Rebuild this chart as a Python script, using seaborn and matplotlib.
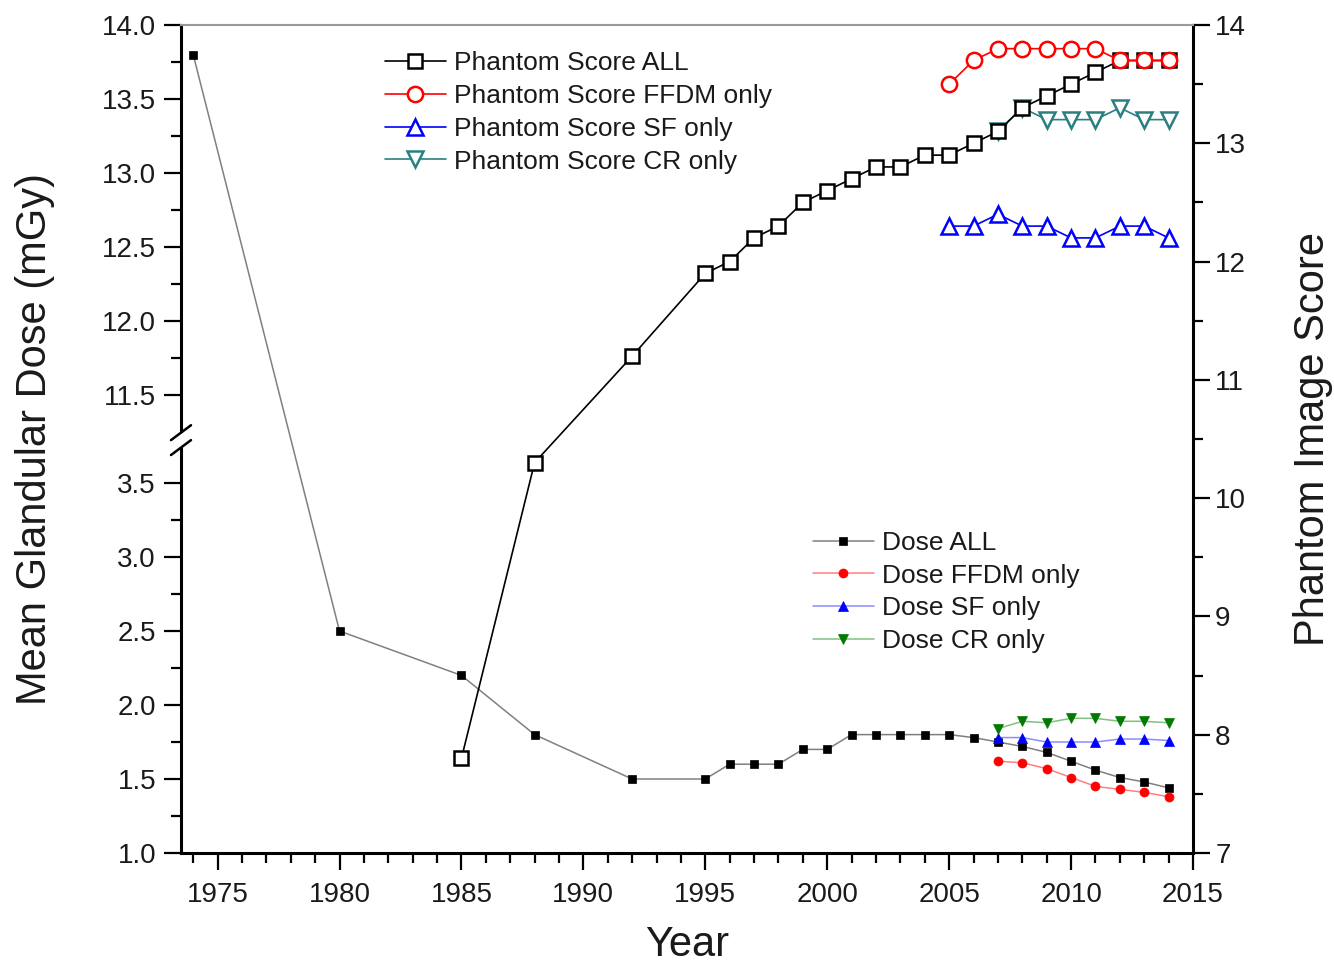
import matplotlib
matplotlib.use("Agg")
import matplotlib.pyplot as plt
import seaborn as sns
from matplotlib.ticker import MultipleLocator, FixedLocator

# ---------------- data ----------------
years_dose_all = [1974, 1980, 1985, 1988, 1992, 1995, 1996, 1997, 1998, 1999, 2000,
                  2001, 2002, 2003, 2004, 2005, 2006, 2007, 2008, 2009, 2010, 2011,
                  2012, 2013, 2014]
dose_all = [13.8, 2.5, 2.2, 1.8, 1.5, 1.5, 1.6, 1.6, 1.6, 1.7, 1.7,
            1.8, 1.8, 1.8, 1.8, 1.8, 1.78, 1.75, 1.72, 1.68, 1.62, 1.56,
            1.51, 1.48, 1.44]
years_dose_mod = [2007, 2008, 2009, 2010, 2011, 2012, 2013, 2014]
dose_ffdm = [1.62, 1.61, 1.57, 1.51, 1.45, 1.43, 1.41, 1.38]
dose_sf = [1.78, 1.78, 1.75, 1.75, 1.75, 1.77, 1.77, 1.76]
dose_cr = [1.84, 1.89, 1.88, 1.91, 1.91, 1.89, 1.89, 1.88]

years_score_all = [1985, 1988, 1992, 1995, 1996, 1997, 1998, 1999, 2000, 2001, 2002,
                   2003, 2004, 2005, 2006, 2007, 2008, 2009, 2010, 2011, 2012, 2013, 2014]
score_all = [7.8, 10.3, 11.2, 11.9, 12.0, 12.2, 12.3, 12.5, 12.6, 12.7, 12.8,
             12.8, 12.9, 12.9, 13.0, 13.1, 13.3, 13.4, 13.5, 13.6, 13.7, 13.7, 13.7]
years_score_mod = [2005, 2006, 2007, 2008, 2009, 2010, 2011, 2012, 2013, 2014]
score_ffdm = [13.5, 13.7, 13.8, 13.8, 13.8, 13.8, 13.8, 13.7, 13.7, 13.7]
score_sf = [12.3, 12.3, 12.4, 12.3, 12.3, 12.2, 12.2, 12.3, 12.3, 12.2]
years_score_cr = [2007, 2008, 2009, 2010, 2011, 2012, 2013, 2014]
score_cr = [13.1, 13.3, 13.2, 13.2, 13.2, 13.3, 13.2, 13.2]

left_ticks_low = [1.0, 1.5, 2.0, 2.5, 3.0, 3.5]
left_ticks_high = [11.5, 12.0, 12.5, 13.0, 13.5, 14.0]
right_ticks = [7, 8, 9, 10, 11, 12, 13, 14]
x_ticks = [1975, 1980, 1985, 1990, 1995, 2000, 2005, 2010, 2015]

# broken left axis: values above the break are shifted down by OFFSET
BREAK = 3.79
OFFSET = 7.405


def fold(v):
    return v - OFFSET if v > BREAK else v


# ---------------- style ----------------
sns.set_style("white")
plt.rcParams['font.family'] = ['Liberation Sans', 'DejaVu Sans']
plt.rcParams['text.color'] = '#1a1a1a'
plt.rcParams['axes.labelcolor'] = '#1a1a1a'
plt.rcParams['xtick.color'] = 'black'
plt.rcParams['ytick.color'] = 'black'
plt.rcParams['xtick.labelcolor'] = '#1a1a1a'
plt.rcParams['ytick.labelcolor'] = '#1a1a1a'

fig = plt.figure(figsize=(13.34, 9.67), dpi=100)
ax1 = fig.add_axes([181 / 1334, 1 - 853 / 967, 1012 / 1334, 828 / 967])
ax2 = ax1.twinx()
ax1.set_zorder(1)
ax2.set_zorder(2)
ax1.patch.set_visible(True)
ax2.patch.set_visible(False)

# ---------------- dose series (left axis) ----------------
dose_specs = [
    (years_dose_all, dose_all, "Dose ALL", '#808080', 'black', 's', 5.5),
    (years_dose_mod, dose_ffdm, "Dose FFDM only", '#ff8080', '#ff0000', 'o', 6.5),
    (years_dose_mod, dose_sf, "Dose SF only", '#8c8cff', '#0000ff', '^', 7),
    (years_dose_mod, dose_cr, "Dose CR only", '#80c080', '#007a00', 'v', 7),
]
dose_handles = []
for xs, ys, lab, lc, mc, mk, ms in dose_specs:
    sns.lineplot(x=xs, y=[fold(v) for v in ys], ax=ax1, color=lc, linewidth=1.1,
                 marker=mk, markersize=ms, markerfacecolor=mc, markeredgecolor=mc,
                 markeredgewidth=0.5, label=lab, legend=False)
    dose_handles.append(ax1.lines[-1])

# ---------------- phantom score series (right axis) ----------------
score_specs = {
    "ALL": (years_score_all, score_all, "Phantom Score ALL", 'black', 's', 10),
    "FFDM": (years_score_mod, score_ffdm, "Phantom Score FFDM only", '#ff0000', 'o', 11),
    "SF": (years_score_mod, score_sf, "Phantom Score SF only", '#0000ff', '^', 11),
    "CR": (years_score_cr, score_cr, "Phantom Score CR only", '#2a8080', 'v', 11),
}
score_handles = {}
for key in ["CR", "SF", "ALL", "FFDM"]:
    xs, ys, lab, c, mk, ms = score_specs[key]
    sns.lineplot(x=xs, y=ys, ax=ax2, color=c, linewidth=1.2, marker=mk, markersize=ms,
                 markerfacecolor='white', markeredgecolor=c, markeredgewidth=1.8,
                 label=lab, legend=False)
    score_handles[key] = ax2.lines[-1]

# ---------------- axes ----------------
ax1.set_xlim(1973.5, 2015)
ax1.set_ylim(1.0, fold(14.0))
ax2.set_ylim(7, 14)

ax1.xaxis.set_major_locator(FixedLocator(x_ticks))
ax1.xaxis.set_minor_locator(MultipleLocator(1))
ax1.set_xticklabels([str(t) for t in x_ticks])

maj = left_ticks_low + [fold(v) for v in left_ticks_high]
ax1.yaxis.set_major_locator(FixedLocator(maj))
ax1.set_yticklabels([f"{v:.1f}" for v in left_ticks_low + left_ticks_high])
minor_low = [1.25, 1.75, 2.25, 2.75, 3.25]
minor_high = [11.75, 12.25, 12.75, 13.25, 13.75]
ax1.yaxis.set_minor_locator(FixedLocator(minor_low + [fold(v) for v in minor_high]))

ax2.yaxis.set_major_locator(FixedLocator(right_ticks))
ax2.yaxis.set_minor_locator(MultipleLocator(0.5))
ax2.set_yticklabels([str(t) for t in right_ticks])

for ax in (ax1, ax2):
    ax.tick_params(which='major', direction='out', length=12, width=1.6, labelsize=20)
    ax.tick_params(which='minor', direction='out', length=7, width=1.6)
ax1.tick_params(axis='x', which='both', bottom=True, top=False, pad=9)
ax1.tick_params(axis='y', which='both', left=True, right=False, pad=6)
ax2.tick_params(axis='y', which='both', left=False, right=True, pad=4)

for s in ax1.spines.values():
    s.set_visible(False)
for s in ax2.spines.values():
    s.set_visible(False)
ax1.spines['left'].set_visible(True)
ax1.spines['bottom'].set_visible(True)
ax2.spines['right'].set_visible(True)
ax2.spines['top'].set_visible(True)
for sp in (ax1.spines['left'], ax1.spines['bottom'], ax2.spines['right']):
    sp.set_linewidth(2.2)
    sp.set_color('black')
ax2.spines['top'].set_linewidth(1.5)
ax2.spines['top'].set_color('#9a9a9a')

ax1.set_xlabel("Year", fontsize=30, labelpad=12)
ax1.set_ylabel("Mean Glandular Dose (mGy)", fontsize=30, labelpad=34)
ax2.set_ylabel("Phantom Image Score", fontsize=30, labelpad=34)

# ---------------- axis break marks ----------------
yb = (BREAK - 1.0) / (fold(14.0) - 1.0)
gap = 0.009
ax1.plot([0, 0], [yb - gap, yb + gap], transform=ax1.transAxes, color='white',
         linewidth=4, clip_on=False, zorder=10, solid_capstyle='butt')
dx, dy = 0.0099, 0.009
for yc in (yb - gap, yb + gap):
    ax1.plot([-dx, dx], [yc - dy, yc + dy], transform=ax1.transAxes, color='black',
             linewidth=1.8, clip_on=False, zorder=11)

# ---------------- legends ----------------
leg2 = ax2.legend([score_handles[k] for k in ["ALL", "FFDM", "SF", "CR"]],
                  [score_specs[k][2] for k in ["ALL", "FFDM", "SF", "CR"]],
                  loc='upper left', bbox_to_anchor=(0.2016, 0.9680), frameon=False,
                  fontsize=19, handlelength=2.3, handletextpad=0.3, labelspacing=0.33,
                  borderpad=0, borderaxespad=0, numpoints=1)
leg1 = ax1.legend(dose_handles, [d[2] for d in dose_specs],
                  loc='upper left', bbox_to_anchor=(0.6245, 0.389), frameon=False,
                  fontsize=19, handlelength=2.3, handletextpad=0.3, labelspacing=0.33,
                  borderpad=0, borderaxespad=0, numpoints=1)

fig.savefig("out.png", dpi=100)
